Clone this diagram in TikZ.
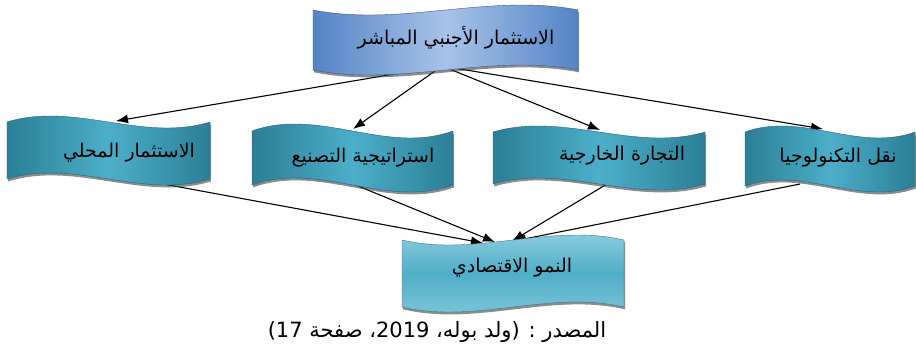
\documentclass[tikz,border=0pt]{standalone}
\usepackage{fontspec}
\newfontfamily\arabicfont[Script=Arabic]{DejaVu Sans}
\TeXXeTstate=1
\usetikzlibrary{arrows.meta,shadows}
\pgfdeclarelayer{bg}
\pgfsetlayers{bg,main}
\definecolor{tealdark}{HTML}{2B7F96}
\definecolor{teallight}{HTML}{4DAEC9}
\definecolor{bluedark}{HTML}{5483C5}
\definecolor{bluelight}{HTML}{A8C3E8}
\definecolor{lbtop}{HTML}{9AD3E3}
\definecolor{lbmid}{HTML}{4FAEC8}
\definecolor{lbbot}{HTML}{86CADB}
% #1 left, #2 top, #3 width, #4 height, #5 amplitude, #6 style
\newcommand{\wavebox}[6]{%
  \path[#6] (#1,#2) .. controls ({#1+#3/3},{#2-3.46*#5}) and ({#1+2*#3/3},{#2+3.46*#5}) .. ({#1+#3},#2)
   -- ({#1+#3},{#2+#4}) .. controls ({#1+2*#3/3},{#2+#4+3.46*#5}) and ({#1+#3/3},{#2+#4-3.46*#5}) .. (#1,{#2+#4}) -- cycle;}
\tikzset{
  boxshadow/.style={drop shadow={shadow xshift=1.2pt,shadow yshift=-2.4pt,opacity=0.6,fill=black!75}},
  midbox/.style={boxshadow,left color=tealdark,right color=tealdark,middle color=teallight,draw=tealdark!80!black,line width=0.4pt},
  topbox/.style={boxshadow,left color=bluedark,right color=bluedark,middle color=bluelight,draw=bluedark!70!black,line width=0.4pt},
  botbox/.style={boxshadow,top color=lbtop,bottom color=lbbot,middle color=lbmid,draw=lbmid!70!black,line width=0.4pt},
  txt/.style={inner sep=0pt,font=\arabicfont\fontsize{19}{22}\selectfont,text=black},
  captxt/.style={inner sep=0pt,font=\arabicfont\fontsize{21}{24}\selectfont,text=black},
  conn/.style={line width=1.1pt,-{Latex[length=12pt,width=9pt]}}
}
\begin{document}
\begin{tikzpicture}[x=1pt,y=-1pt]
\useasboundingbox (0,0) rectangle (916,353);
% boxes
\wavebox{313}{10}{265}{60}{-5}{topbox}
\wavebox{7}{122}{203}{57}{6}{midbox}
\wavebox{252}{131}{201}{54}{7}{midbox}
\wavebox{493}{132}{212}{52}{6}{midbox}
\wavebox{745}{132}{170}{54}{6}{midbox}
\wavebox{402}{240}{222}{67}{-5}{botbox}
% texts
\node[txt] (top) at (456,38) {\beginR الاستثمار الأجنبي المباشر\endR};
\node[txt] (b1) at (129,153) {\beginR الاستثمار المحلي\endR};
\node[txt] (b2) at (363,158) {\beginR استراتيجية التصنيع\endR};
\node[txt] (b3) at (622,156) {\beginR التجارة الخارجية\endR};
\node[txt] (b4) at (838,158) {\beginR نقل التكنولوجيا\endR};
\node[txt] (bot) at (512,268) {\beginR النمو الاقتصادي\endR};
\node[captxt] (cap) at (437,332) {\beginR المصدر : (ولد بوله، \beginL 2019\endL، صفحة \beginL 17\endL)\endR};
% connector points
\coordinate (topout) at (442,66);
\coordinate (b1in) at (116,121);
\coordinate (b2in) at (353,129);
\coordinate (b3in) at (600,130);
\coordinate (b4in) at (823,129);
\coordinate (b1out) at (120,176);
\coordinate (b2out) at (353,184);
\coordinate (b3out) at (607,184);
\coordinate (b4out) at (800,184);
\coordinate (botin1) at (483,243);
\coordinate (botin2) at (495,242);
\coordinate (botin3) at (512,241);
\coordinate (botin4) at (514,241);
\begin{pgfonlayer}{bg}
\draw[conn] (topout) -- (b1in);
\draw[conn] (topout) -- (b2in);
\draw[conn] (topout) -- (b3in);
\draw[conn] (topout) -- (b4in);
\draw[conn] (b1out) -- (botin1);
\draw[conn] (b2out) -- (botin2);
\draw[conn] (b3out) -- (botin3);
\draw[conn] (b4out) -- (botin4);
\end{pgfonlayer}
\end{tikzpicture}
\end{document}
